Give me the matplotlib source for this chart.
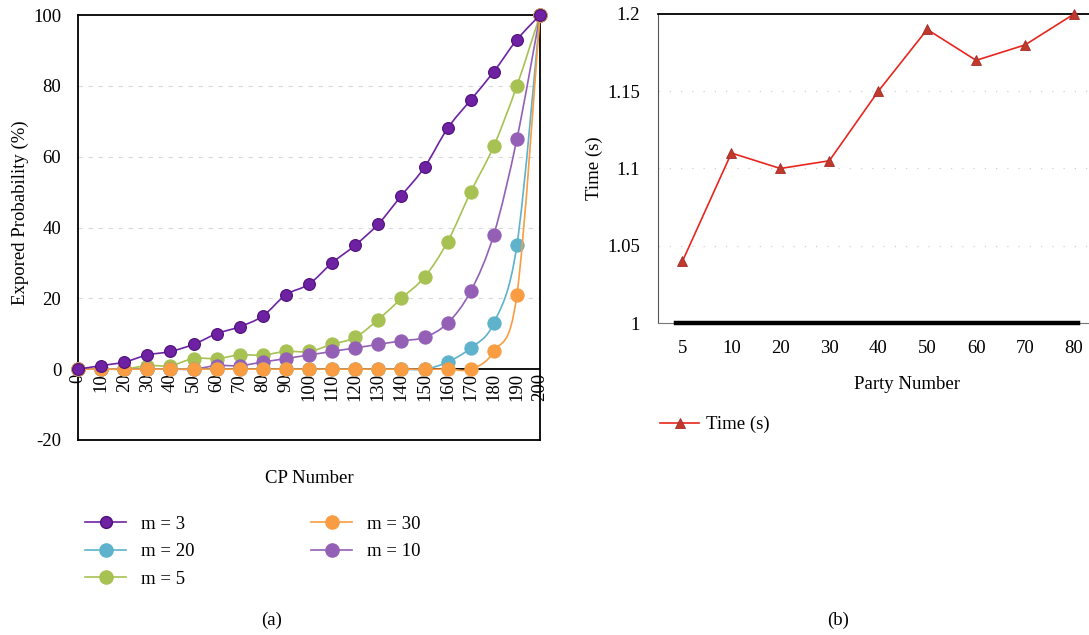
import matplotlib.pyplot as plt
from matplotlib.path import Path
from matplotlib.patches import PathPatch
from matplotlib.lines import Line2D

# Chart (a) data: exposed probability vs CP number
cp_number = [0, 10, 20, 30, 40, 50, 60, 70, 80, 90, 100,
             110, 120, 130, 140, 150, 160, 170, 180, 190, 200]
m3 = [0, 1, 2, 4, 5, 7, 10, 12, 15, 21, 24, 30, 35, 41, 49, 57, 68, 76, 84, 93, 100]
m5 = [0, 0, 0, 1, 1, 3, 3, 4, 4, 5, 5, 7, 9, 14, 20, 26, 36, 50, 63, 80, 100]
m10 = [0, 0, 0, 0, 0, 0, 1, 1, 2, 3, 4, 5, 6, 7, 8, 9, 13, 22, 38, 65, 100]
m20 = [0, 0, 0, 0, 0, 0, 0, 0, 0, 0, 0, 0, 0, 0, 0, 0, 2, 6, 13, 35, 100]
m30 = [0, 0, 0, 0, 0, 0, 0, 0, 0, 0, 0, 0, 0, 0, 0, 0, 0, 0, 5, 21, 100]

# Chart (b) data: time vs party number
party_labels = ['5', '10', '20', '30', '40', '50', '60', '70', '80']
time_s = [1.04, 1.11, 1.10, 1.105, 1.15, 1.19, 1.17, 1.18, 1.20]

plt.rcParams['font.family'] = ['Liberation Serif', 'DejaVu Serif']
plt.rcParams['axes.unicode_minus'] = False
FS = 13.5


def smooth_path(xs, ys):
    # Excel-style smoothed line: Catmull-Rom converted to cubic Bezier segments
    verts = [(xs[0], ys[0])]
    codes = [Path.MOVETO]
    n = len(xs)
    for i in range(n - 1):
        x0, y0 = (xs[i - 1], ys[i - 1]) if i > 0 else (xs[i], ys[i])
        x1, y1 = xs[i], ys[i]
        x2, y2 = xs[i + 1], ys[i + 1]
        x3, y3 = (xs[i + 2], ys[i + 2]) if i + 2 < n else (x2, y2)
        c1 = (x1 + (x2 - x0) / 6, y1 + (y2 - y0) / 6)
        c2 = (x2 - (x3 - x1) / 6, y2 - (y3 - y1) / 6)
        verts += [c1, c2, (x2, y2)]
        codes += [Path.CURVE4] * 3
    return Path(verts, codes)


fig = plt.figure(figsize=(10.89, 6.35), dpi=100)

# ---------- (a) ----------
ax1 = fig.add_axes([78 / 1089, 1 - 440 / 635, 462 / 1089, 425 / 635])
ax1.set_xlim(0, 200)
ax1.set_ylim(-20, 100)

series = [
    ('m = 5', m5, '#A7C153', '#A7C153', 9.5),
    ('m = 10', m10, '#9360B6', '#9360B6', 9.5),
    ('m = 20', m20, '#5EB2CB', '#5EB2CB', 9.5),
    ('m = 30', m30, '#F99C42', '#F99C42', 9.5),
    ('m = 3', m3, '#6E22A3', '#4E1078', 8.5),
]
handles = {}
for i, (label, vals, color, edge, ms) in enumerate(series):
    patch = PathPatch(smooth_path(cp_number, vals), facecolor='none',
                      edgecolor=color, lw=1.2, zorder=3 + i, clip_on=False)
    ax1.add_patch(patch)
    ax1.plot(cp_number, vals, linestyle='none', marker='o', ms=ms,
             mfc=color, mec=edge, mew=0.8, zorder=3 + i, clip_on=False)
    handles[label] = Line2D([], [], color=color, lw=1.2, marker='o', ms=ms,
                            mfc=color, mec=edge)

# x tick labels sit on the zero line
ax1.spines['bottom'].set_position(('data', 0))
ax1.spines['bottom'].set_visible(False)
ax1.axhline(0, color='black', lw=1.3, zorder=2)
ax1.axhline(-20, color='black', lw=1.3, clip_on=False)
ax1.set_xticks(cp_number)
ax1.set_xticklabels([str(v) for v in cp_number], rotation=90,
                    fontsize=FS, va='top', ha='center')
ax1.tick_params(axis='x', length=0, pad=3)
ax1.set_yticks([-20, 0, 20, 40, 60, 80, 100])
ax1.tick_params(axis='y', length=0, pad=12, labelsize=FS)
for yv in [20, 40, 60, 80]:
    ax1.axhline(yv, color='#D9D9D9', lw=0.8, ls=(0, (4, 5)), zorder=1)
for s in ['left', 'top', 'right']:
    ax1.spines[s].set_linewidth(1.3)
ax1.set_xlabel('CP Number', fontsize=FS)
ax1.xaxis.set_label_coords(0.5, -0.07)
ax1.set_ylabel('Expored Probability (%)', fontsize=FS)
ax1.yaxis.set_label_coords(-0.106, 0.535)

order = ['m = 3', 'm = 20', 'm = 5', 'm = 30', 'm = 10']
fig.legend([handles[k] for k in order], order, ncol=2, loc='upper left',
           bbox_to_anchor=(68 / 1089, 1 - 499 / 635), frameon=False,
           fontsize=FS, handlelength=2.2, handletextpad=0.8,
           columnspacing=6.2, labelspacing=0.55)

# ---------- (b) ----------
ax2 = fig.add_axes([658 / 1089, 1 - 323 / 635, 440.5 / 1089, 309 / 635])
pos = list(range(1, len(party_labels) + 1))
ax2.set_xlim(0.5, len(party_labels) + 0.5)
ax2.set_ylim(1.0, 1.2)
ax2.plot(pos, time_s, color='#E8261E', lw=1.2, marker='^', ms=7,
         mfc='#C0392B', mec='#A52A2A', mew=0.6, clip_on=False, zorder=3,
         label='Time (s)')
ax2.set_xticks(pos)
ax2.set_xticklabels(party_labels, fontsize=FS)
ax2.set_yticks([1.0, 1.05, 1.1, 1.15, 1.2])
ax2.set_yticklabels(['1', '1.05', '1.1', '1.15', '1.2'], fontsize=FS)
for yv in [1.05, 1.1, 1.15]:
    ax2.axhline(yv, color='#D0D0D0', lw=0.9, ls=(0, (1, 8)), zorder=1)
ax2.tick_params(length=0)
ax2.tick_params(axis='x', pad=12)
ax2.tick_params(axis='y', pad=13)
ax2.spines['left'].set_color('#555555')
ax2.spines['bottom'].set_color('#777777')
ax2.spines['top'].set_linewidth(1.3)
ax2.axhline(1.0, xmin=18 / 440.5, xmax=420 / 440.5, color='black', lw=3.2,
            clip_on=False, zorder=4)
ax2.set_xlabel('Party Number', fontsize=FS)
ax2.xaxis.set_label_coords(0.565, -0.17)
ax2.set_ylabel('Time (s)', fontsize=FS)
ax2.yaxis.set_label_coords(-0.125, 0.5)
fig.legend(handles=ax2.get_lines()[:1], loc='upper left',
           bbox_to_anchor=(643 / 1089, 1 - 399 / 635), frameon=False,
           fontsize=FS, handlelength=2.1, handletextpad=0.35)

fig.text(272 / 1089, 1 - 620 / 635, '(a)', ha='center', va='center', fontsize=FS)
fig.text(838 / 1089, 1 - 620 / 635, '(b)', ha='center', va='center', fontsize=FS)

fig.savefig('out.png', dpi=100)
